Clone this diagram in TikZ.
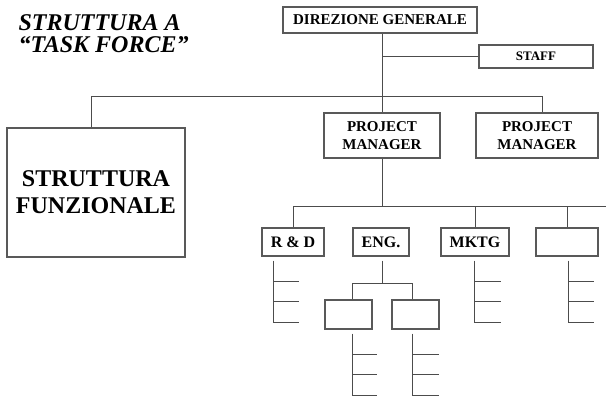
\documentclass[tikz,border=0pt]{standalone}
\usepackage{fontspec}
\setmainfont{Liberation Serif}
\usetikzlibrary{positioning, calc}

\begin{document}
\begin{tikzpicture}[x=1pt, y=-1pt,
    box/.style={draw=black!65, line width=1.1pt, inner sep=0pt, align=center, font=\bfseries},
    wire/.style={draw=black!70, line width=1pt}]
    \useasboundingbox (0,0) rectangle (606,401);

    % title
    \node[anchor=base west, font=\fontsize{24}{24}\selectfont\bfseries\itshape] (title1) at (15,31) {STRUTTURA A};
    \node[anchor=base west, font=\fontsize{24}{24}\selectfont\bfseries\itshape] (title2) at (15,53) {“TASK FORCE”};

    % top levels
    \node[box, minimum width=194pt, minimum height=26pt, font=\fontsize{15}{18}\selectfont\bfseries] (dg) at (380,20) {DIREZIONE GENERALE};
    \node[box, minimum width=114pt, minimum height=23pt, font=\fontsize{13}{15}\selectfont\bfseries] (staff) at (536,56.5) {STAFF};
    \node[box, minimum width=178pt, minimum height=129pt, font=\fontsize{24}{27}\selectfont\bfseries] (funz) at (96,192.5) {STRUTTURA\\FUNZIONALE};
    \node[box, minimum width=116pt, minimum height=45pt, font=\fontsize{15}{18}\selectfont\bfseries] (pm1) at (382,135.5) {PROJECT\\MANAGER};
    \node[box, minimum width=122pt, minimum height=45pt, font=\fontsize{15}{18}\selectfont\bfseries] (pm2) at (537,135.5) {PROJECT\\MANAGER};

    \draw[wire] (dg.south -| pm1.north) -- (pm1.north);
    \draw[wire] (staff.west) -- (staff.west -| pm1.north);
    \coordinate (busL) at (91,96.5);
    \coordinate (busR) at (542,96.5);
    \draw[wire] (funz.north -| busL) -- (busL) -- (busR) -- (busR |- pm2.north);

    % functions under the project manager
    \node[box, minimum width=62pt, minimum height=28pt, font=\fontsize{16}{18}\selectfont\bfseries] (rd) at (293,242) {R \& D};
    \node[box, minimum width=56pt, minimum height=28pt, font=\fontsize{16}{18}\selectfont\bfseries] (eng) at (381,242) {ENG.};
    \node[box, minimum width=68pt, minimum height=28pt, font=\fontsize{16}{18}\selectfont\bfseries] (mktg) at (475,242) {MKTG};
    \node[box, minimum width=62pt, minimum height=28pt] (blank) at (567,242) {};

    \coordinate (fbus) at (606,206.5);
    \draw[wire] (rd.north) |- (fbus);
    \draw[wire] (pm1.south) -- (pm1.south |- fbus);
    \foreach \b in {mktg, blank}
      \draw[wire] (\b.north) -- (\b.north |- fbus);

    % ENG. sub units
    \node[box, minimum width=47pt, minimum height=29pt] (suba) at (348.5,314.5) {};
    \node[box, minimum width=47pt, minimum height=29pt] (subb) at (415.5,314.5) {};
    \coordinate (engL) at (352,284);
    \coordinate (engR) at (412,284);
    \draw[wire] ([yshift=-4pt]eng.south -| pm1.south) -- (engL -| pm1.south);
    \draw[wire] (engL |- suba.north) -- (engL) -- (engR) -- (engR |- subb.north);

    % combs
    \foreach \b/\dx/\len in {rd/-20/26, mktg/-1/27, blank/1/26, suba/3.5/25, subb/-3.5/27}
      \draw[wire] ([xshift=\dx pt, yshift=-4pt]\b.south) -- ++(0,62) -- ++(\len,0)
        ([xshift=\dx pt, yshift=-4pt]\b.south) ++(0,21) -- ++(\len,0)
        ([xshift=\dx pt, yshift=-4pt]\b.south) ++(0,41) -- ++(\len,0);
\end{tikzpicture}
\end{document}
